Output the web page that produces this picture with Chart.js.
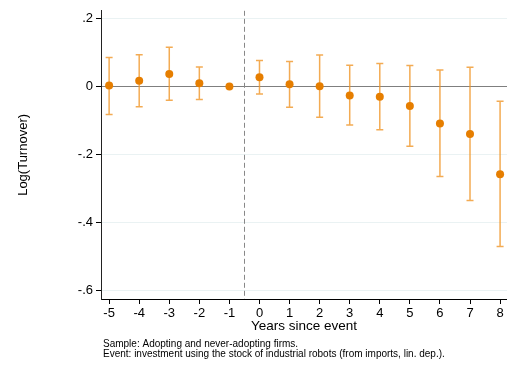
<!DOCTYPE html>
<html>
<head>
<meta charset="utf-8">
<script src="https://cdn.jsdelivr.net/npm/chart.js@4"></script>
<style>
    html, body { margin: 0; padding: 0; background: #fff; }
    #wrap { width: 507px; height: 365px; }
</style>
</head>
<body>
<div id="wrap"><canvas id="event-chart"></canvas></div>
<script>
// Event-study estimates
const eventTimes = [-5, -4, -3, -2, -1, 0, 1, 2, 3, 4, 5, 6, 7, 8];
const coef = [0.003, 0.017, 0.037, 0.010, 0, 0.028, 0.007, 0.001, -0.026, -0.030, -0.057, -0.109, -0.140, -0.258];
const ciLow = [-0.082, -0.059, -0.040, -0.038, null, -0.022, -0.061, -0.090, -0.113, -0.127, -0.176, -0.265, -0.336, -0.471];
const ciHigh = [0.086, 0.094, 0.116, 0.058, null, 0.077, 0.074, 0.093, 0.063, 0.068, 0.062, 0.049, 0.057, -0.043];

const xTicks = [-5, -4, -3, -2, -1, 0, 1, 2, 3, 4, 5, 6, 7, 8];
const yTicks = [-0.6, -0.4, -0.2, 0, 0.2];
const yTickLabels = ['-.6', '-.4', '-.2', '0', '.2'];
const eventLine = -0.5;

const notes = [
    'Sample: Adopting and never-adopting firms.',
    'Event: investment using the stock of industrial robots (from imports, lin. dep.).'
];

const FONT = "'Liberation Sans', Arial, sans-serif";
const ORANGE = '#e67e00';
const CI_COLOR = 'rgba(240, 150, 40, 0.8)';

// Draw the dashed event line and the confidence intervals
const ciPlugin = {
    id: 'ciPlugin',
    beforeDatasetsDraw(chart) {
        const { ctx, chartArea, scales } = chart;
        const x = scales.x, y = scales.y;
        ctx.save();

        // dashed vertical line
        const ex = Math.round(x.getPixelForValue(eventLine)) + 0.5;
        ctx.strokeStyle = '#888';
        ctx.lineWidth = 1;
        ctx.setLineDash([5, 3]);
        ctx.beginPath();
        ctx.moveTo(ex, chartArea.top);
        ctx.lineTo(ex, chartArea.bottom);
        ctx.stroke();
        ctx.setLineDash([]);

        // error bars
        ctx.strokeStyle = CI_COLOR;
        ctx.lineWidth = 1.5;
        eventTimes.forEach((t, i) => {
            if (ciLow[i] === null) return;
            const px = x.getPixelForValue(t);
            const lo = y.getPixelForValue(ciLow[i]);
            const hi = y.getPixelForValue(ciHigh[i]);
            ctx.beginPath();
            ctx.moveTo(px, lo);
            ctx.lineTo(px, hi);
            ctx.moveTo(px - 3.5, lo);
            ctx.lineTo(px + 3.5, lo);
            ctx.moveTo(px - 3.5, hi);
            ctx.lineTo(px + 3.5, hi);
            ctx.stroke();
        });
        ctx.restore();
    },
    afterDraw(chart) {
        const { ctx, chartArea } = chart;
        ctx.save();
        ctx.fillStyle = '#000';
        ctx.font = '10px ' + FONT;
        ctx.textBaseline = 'middle';
        ctx.textAlign = 'left';
        notes.forEach((line, i) => {
            ctx.fillText(line, chartArea.left + 2, 344.5 + i * 10);
        });
        ctx.restore();
    }
};

const ctx = document.getElementById('event-chart').getContext('2d');
const chart = new Chart(ctx, {
    type: 'scatter',
    data: {
        datasets: [{
            data: eventTimes.map((t, i) => ({ x: t, y: coef[i] })),
            backgroundColor: ORANGE,
            borderColor: ORANGE,
            pointRadius: 4,
            borderWidth: 0,
            clip: false
        }]
    },
    options: {
        responsive: true,
        maintainAspectRatio: false,
        animation: false,
        layout: { autoPadding: false, padding: { left: 0, top: 10, right: 0, bottom: 26 } },
        plugins: {
            legend: { display: false },
            tooltip: { enabled: false }
        },
        scales: {
            x: {
                type: 'linear',
                min: -5.27,
                max: 8.23,
                afterBuildTicks: (scale) => { scale.ticks = xTicks.map(v => ({ value: v })); },
                afterFit: (scale) => {
                    scale.height = 40;
                    scale.paddingLeft = 0;
                    scale.paddingRight = 0;
                },
                border: { display: true, color: '#000', width: 1 },
                grid: {
                    drawOnChartArea: false,
                    drawTicks: true,
                    tickLength: 5,
                    tickColor: '#000'
                },
                ticks: {
                    color: '#000',
                    padding: 2,
                    font: { family: FONT, size: 13 },
                    maxRotation: 0,
                    callback: (v) => String(v)
                },
                title: {
                    display: true,
                    text: 'Years since event',
                    color: '#000',
                    font: { family: FONT, size: 13.5 },
                    padding: { top: 0, bottom: 5 }
                }
            },
            y: {
                min: -0.626,
                max: 0.2235,
                afterBuildTicks: (scale) => { scale.ticks = yTicks.map(v => ({ value: v })); },
                afterFit: (scale) => { scale.width = 101; },
                border: { display: true, color: '#222', width: 1 },
                grid: {
                    color: (c) => (c.tick && Math.abs(c.tick.value) < 1e-9) ? '#7f7f7f' : '#eaf2f3',
                    lineWidth: 1,
                    drawTicks: true,
                    tickLength: 5,
                    tickColor: '#000'
                },
                ticks: {
                    color: '#000',
                    padding: 3,
                    font: { family: FONT, size: 13 },
                    callback: (v) => {
                        const idx = yTicks.findIndex(t => Math.abs(t - v) < 1e-9);
                        return idx >= 0 ? yTickLabels[idx] : '';
                    }
                },
                title: {
                    display: true,
                    text: 'Log(Turnover)',
                    color: '#000',
                    font: { family: FONT, size: 13 },
                    padding: { top: 16, bottom: 0 }
                }
            }
        }
    },
    plugins: [ciPlugin]
});
</script>
</body>
</html>
